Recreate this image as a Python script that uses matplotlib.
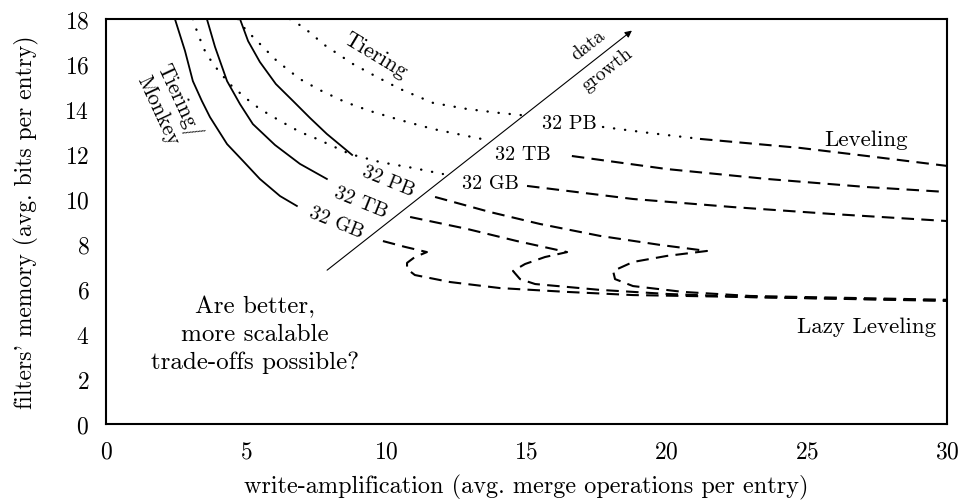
import matplotlib
matplotlib.use("Agg")
import matplotlib.pyplot as plt

plt.rcParams['font.family'] = ['cmr10', 'DejaVu Serif']
plt.rcParams['axes.formatter.use_mathtext'] = True
plt.rcParams['mathtext.fontset'] = 'cm'

#------------ tiering/monkey (solid), one per data size ------------
mk_gb_x = [2.46, 2.82, 3.10, 3.42, 3.71, 4.32, 4.89, 5.49, 6.21, 6.81]
mk_gb_y = [18.0, 16.58, 15.24, 14.36, 13.64, 12.44, 11.69, 10.89, 10.13, 9.69]
mk_tb_x = [3.60, 3.89, 4.32, 4.78, 5.24, 6.03, 6.92, 7.88]
mk_tb_y = [18.0, 16.76, 15.24, 14.22, 13.33, 12.40, 11.56, 10.89]
mk_pb_x = [4.78, 5.07, 5.49, 6.06, 6.67, 7.28, 7.88, 8.78]
mk_pb_y = [18.0, 17.02, 16.09, 15.11, 14.36, 13.60, 12.89, 11.96]

#------------ tiering (dotted) ------------
ti_gb_x = [3.10, 3.28, 3.53, 3.82, 4.14, 4.49, 5.03, 5.49, 6.21, 6.92, 7.53, 8.70, 9.78, 10.95, 12.02]
ti_gb_y = [18.0, 17.33, 16.58, 16.0, 15.51, 15.02, 14.44, 14.0, 13.47, 12.98, 12.67, 12.0, 11.64, 11.38, 11.11]
ti_tb_x = [4.71, 4.96, 5.39, 6.10, 6.92, 7.63, 8.53, 9.42, 10.49, 11.67, 12.88, 13.59]
ti_tb_y = [18.0, 17.56, 17.02, 16.13, 15.33, 14.84, 14.31, 13.91, 13.51, 13.11, 12.80, 12.62]
ti_pb_x = [6.56, 7.03, 7.38, 7.74, 8.28, 8.81, 9.67, 10.49, 11.67, 12.88, 14.06, 15.13]
ti_pb_y = [18.0, 17.64, 17.29, 16.89, 16.44, 16.0, 15.42, 14.89, 14.27, 14.0, 13.82, 13.69]
ti_pb2_x = [17.73, 19.41, 21.19]
ti_pb2_y = [13.20, 12.93, 12.67]

#------------ leveling (dashed) ------------
lv_gb_x = [15.02, 18.8, 22.37, 25.94, 30.0]
lv_gb_y = [10.58, 10.0, 9.64, 9.33, 9.02]
lv_tb_x = [16.62, 20.01, 23.58, 27.15, 30.0]
lv_tb_y = [11.91, 11.33, 10.89, 10.53, 10.31]
lv_pb_x = [21.19, 24.76, 27.15, 30.0]
lv_pb_y = [12.67, 12.27, 11.91, 11.47]

#------------ lazy leveling w/ monkey (dashed, z-shaped) ------------
lz_gb_x = [9.88, 10.67, 11.45, 11.02, 10.74, 10.74, 11.02, 12.27, 14.06, 16.45, 18.8, 22.98, 30.0]
lz_gb_y = [8.13, 7.87, 7.64, 7.42, 7.16, 6.89, 6.62, 6.31, 6.04, 5.87, 5.73, 5.64, 5.47]
lz_tb_x = [10.85, 12.88, 14.66, 16.45, 15.66, 14.95, 14.52, 14.77, 15.31, 17.62, 20.01, 22.98, 30.0]
lz_tb_y = [9.20, 8.67, 8.13, 7.64, 7.42, 7.11, 6.80, 6.44, 6.22, 5.96, 5.78, 5.64, 5.49]
lz_pb_x = [11.74, 13.7, 15.48, 17.62, 19.76, 21.44, 20.01, 18.8, 18.09, 18.16, 18.8, 20.59, 22.98, 30.0]
lz_pb_y = [10.09, 9.42, 8.89, 8.36, 7.96, 7.69, 7.47, 7.20, 6.80, 6.44, 6.13, 5.87, 5.69, 5.52]

sizes = ['32 GB', '32 TB', '32 PB']
xticks = [0, 5, 10, 15, 20, 25, 30]
yticks = [0, 2, 4, 6, 8, 10, 12, 14, 16, 18]

fig = plt.figure(figsize=(9.65, 5.02), dpi=100)
ax = fig.add_axes([0.1098, 0.1534, 0.8715, 0.8068])

dot = dict(color='black', lw=1.7, linestyle=(0, (0.1, 4.6)), dash_capstyle='round')
dash = dict(color='black', lw=1.5, linestyle=(0, (6, 3.5)))
solid = dict(color='black', lw=1.3)

ax.plot(mk_gb_x, mk_gb_y, **solid)
ax.plot(mk_tb_x, mk_tb_y, **solid)
ax.plot(mk_pb_x, mk_pb_y, **solid)

ax.plot(ti_gb_x, ti_gb_y, **dot)
ax.plot(ti_tb_x, ti_tb_y, **dot)
ax.plot(ti_pb_x, ti_pb_y, **dot)
ax.plot(ti_pb2_x, ti_pb2_y, **dot)

ax.plot(lv_gb_x, lv_gb_y, **dash)
ax.plot(lv_tb_x, lv_tb_y, **dash)
ax.plot(lv_pb_x, lv_pb_y, **dash)

ax.plot(lz_gb_x, lz_gb_y, **dash)
ax.plot(lz_tb_x, lz_tb_y, **dash)
ax.plot(lz_pb_x, lz_pb_y, **dash)

# data growth arrow
ax.annotate('', xy=(18.84, 17.56), xytext=(7.81, 6.76),
            arrowprops=dict(arrowstyle='-|>', color='black', lw=0.8, mutation_scale=10))
ax.text(17.2, 16.85, 'data', rotation=38, ha='center', va='center', fontsize=14)
ax.text(17.9, 15.8, 'growth', rotation=38, ha='center', va='center', fontsize=14)

# size labels, left (monkey) and right (tiering/leveling)
for (x, y), s in zip([(8.2, 8.98), (9.1, 9.87), (10.06, 10.8)], sizes):
    ax.text(x, y, s, rotation=-22, ha='center', va='center', fontsize=14.5)
for (x, y), s in zip([(13.7, 10.71), (14.88, 12.0), (16.52, 13.38)], sizes):
    ax.text(x, y, s, ha='center', va='center', fontsize=14.5)

ax.text(9.6, 16.4, 'Tiering', rotation=-31, ha='center', va='center', fontsize=16)
ax.text(2.25, 14.2, 'Tiering/\nMonkey', rotation=-65, ha='center', va='center',
        fontsize=15.5, linespacing=1.1)
ax.text(27.1, 12.67, 'Leveling', ha='center', va='center', fontsize=16.5)
ax.text(27.15, 4.36, 'Lazy Leveling', ha='center', va='center', fontsize=16.5)
ax.text(5.32, 4.0, 'Are better,\nmore scalable\ntrade-offs possible?', ha='center',
        va='center', fontsize=18, linespacing=1.3)

ax.set_xlim(0, 30)
ax.set_ylim(0, 18)
ax.set_xticks(xticks)
ax.set_yticks(yticks)
ax.tick_params(length=0, pad=12, labelsize=17)
for sp in ax.spines.values():
    sp.set_linewidth(1.5)
ax.set_xlabel('write-amplification (avg. merge operations per entry)', fontsize=17.5, labelpad=8)
ax.set_ylabel("filters' memory (avg. bits per entry)", fontsize=17, labelpad=18)

plt.savefig('out.png', dpi=100)
